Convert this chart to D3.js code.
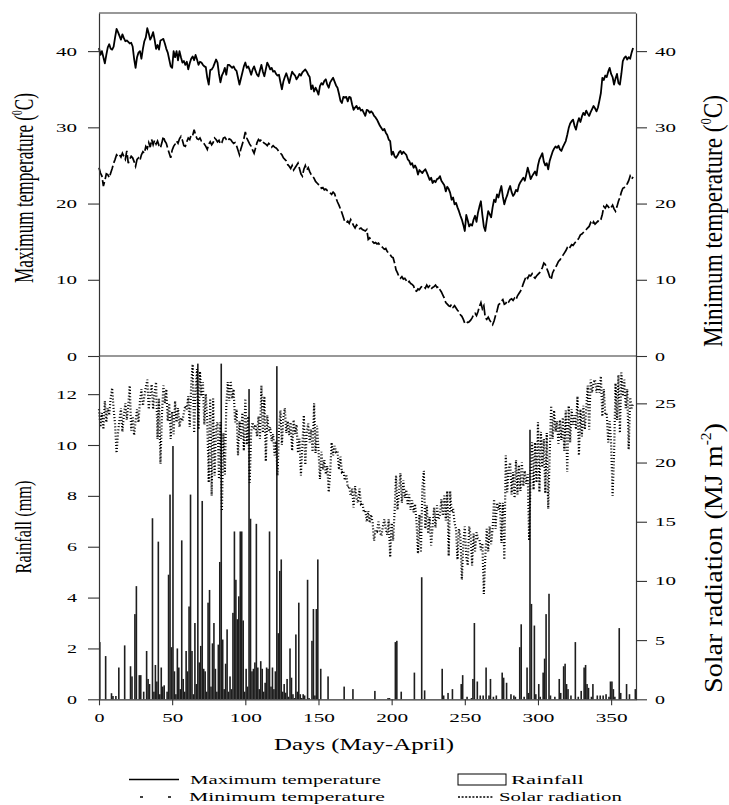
<!DOCTYPE html>
<html><head><meta charset="utf-8">
<script src="https://cdn.jsdelivr.net/npm/d3@7/dist/d3.min.js"></script>
<style>body{margin:0;background:#fff}svg{display:block}text{font-family:'Liberation Serif','Times New Roman',serif}</style>
</head><body>
<svg id="c" width="729" height="805"></svg>
<script>
// Daily maximum temperature (°C), days 0..365
const tmax = [
40.4,39.5,40.0,39.2,38.4,39.5,40.5,40.9,40.3,40.2,
40.6,41.8,42.9,42.5,42.0,41.5,42.2,41.7,41.3,41.4,
41.2,41.0,41.1,40.6,39.0,37.8,39.2,39.8,40.0,39.0,
40.3,41.3,41.8,43.0,42.3,41.5,41.9,42.5,41.5,40.3,
40.8,40.2,41.4,41.5,41.6,41.0,40.3,39.8,38.9,38.0,
37.8,40.0,39.2,40.0,38.8,40.0,39.2,38.5,38.7,38.2,
38.6,37.6,38.4,39.0,39.3,38.8,39.5,38.9,38.2,38.6,
38.5,38.2,38.0,37.9,36.5,35.6,37.5,37.6,37.9,38.4,
38.9,38.5,37.0,35.9,36.8,37.2,37.8,36.9,38.2,38.2,
38.0,37.8,38.0,37.6,37.4,36.5,35.6,36.4,37.2,38.0,
38.5,37.8,38.0,37.5,36.9,37.6,38.0,37.4,36.9,36.7,
37.5,38.2,37.3,36.7,37.6,38.5,38.1,37.6,37.8,37.3,
37.4,37.0,36.8,36.9,35.9,35.0,36.0,36.6,37.1,36.5,
35.8,36.6,37.3,37.0,36.8,36.3,36.6,37.0,36.8,37.2,
37.4,37.6,37.3,36.9,36.6,35.0,35.5,34.7,35.2,34.8,
34.3,35.4,35.8,35.6,36.1,36.3,35.6,35.2,35.9,36.2,
36.5,36.0,35.5,35.2,34.4,33.5,33.2,34.0,33.9,34.0,
33.4,34.0,33.9,33.0,32.3,32.6,32.8,32.4,32.6,32.2,
32.3,31.9,31.5,32.3,32.2,31.9,32.1,31.9,31.5,31.3,
31.0,30.6,30.2,29.9,29.6,29.8,29.3,29.0,28.4,28.2,
26.4,26.8,26.2,26.0,26.3,26.7,26.9,26.5,26.8,26.6,
26.4,25.8,25.6,25.1,25.3,24.7,25.0,24.6,23.8,24.4,
24.2,24.0,24.3,24.5,24.1,23.6,23.1,23.4,22.7,23.0,
22.8,23.2,23.3,23.6,23.0,22.7,22.4,21.6,22.2,21.9,
21.4,20.5,20.8,19.9,20.1,19.5,19.0,18.4,17.9,17.2,
16.4,18.5,17.8,17.0,17.3,17.1,17.9,18.4,17.6,18.8,
19.6,20.3,18.5,17.0,16.4,17.8,19.0,18.6,18.2,19.5,
20.5,20.2,21.2,20.8,21.6,22.3,20.9,19.9,20.6,21.1,
21.8,22.3,21.5,21.0,21.3,21.8,21.6,22.4,22.8,23.1,
23.4,23.0,23.8,24.7,24.0,23.2,23.6,23.9,24.2,23.7,
25.0,25.8,26.2,26.6,25.5,25.0,25.3,24.5,25.6,26.2,
26.8,27.2,27.5,27.3,27.6,27.1,26.9,27.4,27.8,28.2,
29.0,29.9,30.5,30.8,31.0,30.2,29.7,30.6,31.2,30.7,
31.4,31.9,31.6,32.2,31.8,31.5,32.0,32.4,32.8,32.5,
32.1,32.6,33.5,34.5,36.5,36.2,36.8,36.6,37.3,37.8,
37.0,36.6,35.6,36.4,37.0,35.8,35.6,37.0,38.7,39.1,
39.3,38.9,39.2,39.0,39.8,40.4];

// Daily minimum temperature (°C)
const tmin = [
24.7,24.0,23.6,22.3,23.0,23.9,23.8,23.4,24.0,24.6,
25.3,25.8,26.4,26.2,26.4,26.1,26.6,26.2,25.8,26.9,
25.3,25.8,26.2,26.0,25.5,24.9,25.8,26.0,25.7,26.4,
26.8,26.6,27.5,27.2,28.0,27.4,28.4,27.7,28.3,27.8,
28.2,27.6,27.3,28.0,28.8,28.2,27.9,27.2,26.6,26.0,
27.0,27.5,27.8,28.2,27.9,28.5,28.8,28.3,27.6,27.5,
28.1,28.6,28.4,29.0,28.9,29.7,29.0,28.5,28.4,28.6,
28.2,28.1,27.8,27.5,27.1,27.8,28.1,27.7,28.0,28.6,
28.4,28.1,28.3,27.8,28.0,28.6,28.7,28.4,28.2,28.5,
28.4,28.1,27.9,28.0,27.6,27.0,26.4,27.2,27.8,28.5,
29.4,28.6,28.2,27.8,27.5,27.0,26.6,27.3,28.0,28.4,
28.2,28.4,28.1,27.9,27.8,27.6,27.9,27.7,27.4,27.6,
27.4,27.3,27.1,26.8,26.6,26.4,26.0,25.8,25.6,25.1,
24.9,24.6,25.0,24.4,24.7,25.0,25.3,24.6,23.9,23.6,
24.5,25.0,24.4,24.7,24.2,23.8,23.6,23.3,22.9,22.7,
22.5,22.4,22.0,22.1,21.8,21.9,21.7,21.6,21.4,21.2,
21.5,21.3,20.7,20.2,19.8,19.3,18.8,18.2,17.6,17.5,
17.7,17.4,17.9,17.5,17.1,16.8,17.2,17.0,16.7,16.8,
16.6,16.5,16.4,16.6,15.3,15.5,15.2,15.0,14.8,14.9,
14.7,14.8,14.5,14.4,14.2,14.0,14.1,13.7,13.5,13.3,
13.0,12.9,12.2,11.3,10.9,10.4,10.2,10.4,10.1,10.2,
9.9,9.6,9.8,9.5,9.4,9.2,8.6,8.5,8.8,8.7,
9.0,9.2,9.1,8.9,9.3,9.0,9.2,8.8,9.0,9.1,
9.3,9.0,9.1,8.7,8.4,8.0,7.6,7.0,6.8,6.6,
6.5,6.8,6.4,6.6,6.3,6.0,5.8,5.4,5.2,4.8,
4.3,4.5,4.4,4.5,4.7,5.0,5.4,5.6,5.3,5.8,
6.5,7.0,6.2,6.6,5.0,4.8,5.1,4.7,4.4,4.1,
4.6,5.3,5.9,6.7,6.9,7.2,7.4,6.8,6.9,7.3,
7.1,7.4,7.5,7.3,7.6,7.4,7.9,8.2,8.5,8.9,
9.5,10.0,10.5,10.2,10.6,10.5,10.8,10.4,10.2,10.5,
10.7,10.9,11.2,11.6,12.2,12.0,11.5,11.0,10.4,10.0,
10.9,11.3,11.6,12.0,12.4,12.6,12.9,13.2,13.5,13.8,
14.2,14.0,14.3,14.6,14.5,14.8,15.0,15.2,15.5,15.9,
16.0,16.2,16.4,16.6,16.8,17.0,17.5,17.2,17.6,17.3,
17.5,17.7,17.6,17.9,18.6,19.6,19.4,19.8,19.6,19.3,
19.5,19.8,19.3,19.0,19.6,20.3,20.8,21.5,22.0,22.1,
22.3,22.6,23.0,23.6,23.2,23.5];

// Daily solar radiation (MJ m-2)
const solar = [
24.5,23.0,24.2,22.8,25.2,23.4,24.6,24.0,25.5,26.3,
24.5,23.2,20.8,22.5,23.6,24.6,22.6,24.0,25.0,23.6,
24.8,26.5,22.7,23.9,22.3,23.5,24.5,23.4,25.2,26.2,
24.8,25.6,26.4,27.0,24.5,25.8,26.6,24.5,25.9,26.8,
22.0,25.4,19.9,24.0,26.5,25.0,26.2,23.5,25.0,22.0,
24.3,22.4,25.2,23.4,24.6,23.0,23.8,23.5,24.2,24.8,
24.5,25.6,23.0,26.5,28.3,22.5,26.0,27.9,22.8,27.7,
25.6,26.8,23.2,25.8,23.4,18.3,25.4,17.2,25.4,18.9,
23.0,23.4,18.6,23.4,15.9,22.5,19.0,24.8,26.8,25.2,
26.9,25.4,26.2,23.4,24.5,20.6,23.5,22.0,24.2,21.0,
25.4,21.5,23.9,18.3,22.6,23.4,22.8,23.2,22.2,23.9,
22.0,26.5,22.5,25.6,20.1,24.0,22.6,23.0,21.8,22.4,
20.6,21.8,18.9,22.7,24.4,21.5,23.8,24.6,22.5,23.5,
22.3,23.4,21.0,23.6,22.4,23.2,20.8,22.0,18.9,21.5,
24.0,19.8,22.6,23.3,21.7,22.8,20.9,25.0,20.8,23.1,
21.1,18.6,20.9,19.4,20.2,19.0,19.7,17.5,19.2,21.7,
20.6,21.4,20.9,21.0,19.4,20.5,19.2,19.3,18.5,19.0,
17.9,18.0,17.2,17.8,16.2,18.0,17.0,16.6,17.8,16.5,
16.6,15.8,16.0,15.0,15.9,14.9,15.6,14.9,13.4,14.3,
14.2,15.0,14.1,13.8,14.6,15.2,14.4,13.9,15.2,12.0,
14.9,13.4,15.8,18.9,16.0,17.4,19.1,16.6,18.5,17.0,
17.7,16.4,17.3,16.0,16.8,15.8,16.5,15.0,12.3,15.6,
12.4,17.8,19.3,14.4,16.4,14.0,15.4,13.0,14.6,16.2,
14.5,16.4,15.2,15.6,16.9,15.5,17.2,15.1,17.6,12.1,
17.6,15.8,16.1,14.9,14.4,11.8,14.4,13.8,10.1,13.2,
14.6,12.0,11.3,14.6,13.8,11.3,14.0,12.5,14.1,13.6,
13.5,12.6,13.2,8.9,12.0,14.4,12.5,14.6,13.1,14.4,
16.9,14.4,16.6,16.0,16.6,13.2,16.6,11.8,20.6,17.5,
19.5,20.0,17.3,19.2,17.0,20.2,17.3,19.8,17.6,20.0,
18.0,19.3,18.2,19.0,13.4,19.2,21.7,17.7,21.7,18.3,
23.4,17.5,22.6,19.6,22.0,17.4,22.5,16.1,20.6,24.8,
22.0,24.4,22.6,23.5,21.6,23.6,21.9,23.8,21.0,24.4,
19.2,24.8,21.7,24.5,23.2,24.0,22.8,25.6,20.6,24.5,
22.2,24.8,22.8,24.6,26.5,22.8,27.0,25.9,26.8,27.0,
25.9,26.7,25.9,27.3,23.9,26.2,24.0,24.2,21.7,23.5,
21.6,17.2,20.6,26.7,23.6,27.4,22.5,27.6,25.6,27.0,
24.6,26.2,21.1,25.5,24.6,25.0];

// Rainfall events: day and amount (mm)
const rainDays = [0,4,8,9,11,13,17,21,22,24,25,27,28,30,32,33,34,36,37,38,39,40,41,42,43,44,46,47,48,49,
50,51,52,53,54,55,56,57,58,59,60,61,62,63,64,65,66,67,68,69,70,71,72,73,74,75,76,77,78,79,
80,81,82,83,84,85,86,87,88,89,90,91,92,93,94,95,96,97,98,99,100,101,102,103,104,105,106,107,108,109,
110,111,112,113,114,115,116,117,118,119,120,121,122,123,124,125,126,127,128,129,130,131,132,133,134,135,136,137,138,139,
140,142,143,145,146,147,148,149,151,156,167,173,188,197,198,202,203,206,215,220,222,234,235,238,241,247,248,251,254,255,
256,258,260,262,264,266,267,269,271,275,276,278,281,283,284,287,288,290,292,293,294,295,297,298,300,301,303,304,305,307,
308,311,314,315,317,318,319,320,322,325,327,329,331,332,333,334,336,337,340,342,344,346,348,349,350,351,352,355,356,360,362,366];
const rainMm = [2.25,1.7,0.24,0.13,0.13,1.25,2.12,1.3,0.9,3.35,4.45,0.95,0.95,0.3,1.9,0.8,0.6,7.12,0.3,1.35,0.7,6.2,0.2,1.25,0.5,0.55,0.3,4.9,8.05,2.05,
9.96,1.1,0.2,2.0,1.25,0.4,6.25,0.8,0.3,1.9,1.1,3.65,8.05,1.9,0.2,3.0,0.6,13.2,1.45,2.1,7.8,1.2,1.1,0.3,3.8,4.3,0.5,2.2,3.0,1.2,
0.3,2.15,5.4,13.2,2.35,0.4,1.4,2.75,0.3,0.9,0.4,3.4,6.6,4.7,3.15,4.05,6.6,6.6,3.1,0.3,1.2,0.5,12.2,7.1,1.1,1.2,1.45,6.9,1.25,0.4,
1.5,1.2,0.3,0.65,1.25,1.2,6.6,0.5,1.25,0.4,1.1,13.1,2.6,5.05,5.5,0.3,0.6,0.26,0.8,0.1,2.0,0.85,0.2,0.05,2.55,0.3,3.8,0.2,0.05,0.2,
0.15,4.7,0.05,2.3,3.55,0.15,3.55,5.5,1.2,0.9,0.5,0.4,0.33,0.05,0.05,2.25,2.3,0.3,1.05,4.8,0.35,1.2,0.15,0.25,0.4,0.6,0.95,0.1,0.05,0.8,
3.0,0.7,0.15,0.15,1.25,0.15,0.8,0.1,0.15,1.05,0.85,0.65,0.2,0.15,0.1,2.05,2.95,0.1,1.25,0.25,10.6,3.75,2.9,0.2,0.6,0.1,1.05,1.6,3.35,4.15,
0.15,0.1,0.8,0.25,1.3,1.4,0.6,0.4,0.15,2.25,0.1,0.33,1.25,1.35,0.6,0.45,0.1,0.6,0.15,0.15,0.15,0.2,0.1,0.7,0.7,0.4,0.1,2.8,0.25,0.6,0.2,0.4];

const xTicks = [0,50,100,150,200,250,300,350];
const tempTicks = [0,10,20,30,40];
const rainTicks = [0,2,4,6,8,10,12];
const solarTicks = [0,5,10,15,20,25];

const svg = d3.select("#c");
const L = 99, R = 636, T = 13, M = 356, B = 699.3;
const x = d3.scaleLinear().domain([0,367]).range([L,R]);
const yT = d3.scaleLinear().domain([0,45]).range([M,T]);
const yR = d3.scaleLinear().domain([0,13.5]).range([B,M]);
const yS = d3.scaleLinear().domain([0,29]).range([B,M]);

// stretch a text element along its baseline to a target length
function fit(node, target) {
  const n = node.getComputedTextLength();
  return n > 0 ? target / n : 1;
}

// rainfall bars
svg.append("g").selectAll("rect").data(rainDays.map((d,i)=>[d,rainMm[i]])).join("rect")
  .attr("x", d => x(d[0]))
  .attr("width", 1.6)
  .attr("y", d => yR(d[1]))
  .attr("height", d => B - yR(d[1]))
  .attr("fill", "#1e1e1e");

// solar radiation
svg.append("path").datum(solar)
  .attr("d", d3.line().x((d,i)=>x(i)).y(d=>yS(d)))
  .attr("fill","none").attr("stroke","#000").attr("stroke-width",2.2)
  .attr("stroke-dasharray","1,2.1");

// min temperature
svg.append("path").datum(tmin)
  .attr("d", d3.line().x((d,i)=>x(i)).y(d=>yT(d)))
  .attr("fill","none").attr("stroke","#000").attr("stroke-width",1.7)
  .attr("stroke-dasharray","10,3");

// max temperature
svg.append("path").datum(tmax)
  .attr("d", d3.line().x((d,i)=>x(i)).y(d=>yT(d)))
  .attr("fill","none").attr("stroke","#000").attr("stroke-width",1.8)
  .attr("stroke-linejoin","round");

// frame lines
svg.append("line").attr("x1",L).attr("x2",R).attr("y1",T).attr("y2",T).attr("stroke","#333").attr("stroke-width",1.2);
svg.append("line").attr("x1",L).attr("x2",R).attr("y1",M).attr("y2",M).attr("stroke","#333").attr("stroke-width",1.2);

function styleAxis(g) {
  g.select(".domain").attr("stroke","#333").attr("stroke-width",1.2);
  g.selectAll(".tick line").attr("stroke","#333").attr("stroke-width",1.1);
  g.selectAll(".tick text")
    .attr("font-family", null).attr("font-size", 12.5).attr("fill","#000")
    .each(function(d) {
      const t = d3.select(this);
      const xx = +t.attr("x") || 0, yy = +t.attr("y") || 0;
      const s = fit(this, String(d).length*11 - 1);
      t.attr("x", 0).attr("y", 0)
       .attr("transform", `translate(${xx},${yy}) scale(${s},1)`);
    });
}

const gLT = svg.append("g").attr("transform",`translate(${L},0)`)
  .call(d3.axisLeft(yT).tickValues(tempTicks).tickSize(11).tickPadding(11).tickSizeOuter(0));
const gLB = svg.append("g").attr("transform",`translate(${L},0)`)
  .call(d3.axisLeft(yR).tickValues(rainTicks).tickSize(11).tickPadding(11).tickSizeOuter(0));
const gRT = svg.append("g").attr("transform",`translate(${R},0)`)
  .call(d3.axisRight(yT).tickValues(tempTicks).tickSize(11).tickPadding(8).tickSizeOuter(0));
const gRB = svg.append("g").attr("transform",`translate(${R},0)`)
  .call(d3.axisRight(yS).tickValues(solarTicks).tickSize(11).tickPadding(8).tickSizeOuter(0));
const gB = svg.append("g").attr("transform",`translate(0,${B})`)
  .call(d3.axisBottom(x).tickValues(xTicks).tickSize(6).tickSizeOuter(0));
gB.selectAll(".tick text").attr("y", 22.7).attr("dy", 0);
[gLT, gLB, gRT, gRB, gB].forEach(styleAxis);

// rotated axis titles
function vTitle(cx, cy, size, len, parts) {
  const t = svg.append("text")
    .attr("text-anchor","middle").attr("font-size",size);
  parts.forEach(p => {
    const s = t.append("tspan").text(p.t);
    if (p.sup) s.attr("font-size", size*0.55).attr("dy", -size*0.42);
    if (p.down) s.attr("dy", size*0.42);
  });
  const s = fit(t.node(), len);
  t.attr("transform", `translate(${cx},${cy}) rotate(-90) scale(${s},1)`);
}
vTitle(33, 188, 27, 190, [{t:"Maximum  temperature ("},{t:"0",sup:true},{t:"C)",down:true}]);
vTitle(722, 221, 27, 252, [{t:"Minimum temperature ("},{t:"0",sup:true},{t:"C)",down:true}]);
vTitle(31, 527, 24, 93, [{t:"Rainfall (mm)"}]);
vTitle(722, 558, 26, 270, [{t:"Solar radiation (MJ m"},{t:"-2",sup:true},{t:")",down:true}]);

// horizontal stretched text
function hText(xx, yy, size, len, str, anchor) {
  const t = svg.append("text").attr("font-size", size)
    .attr("text-anchor", anchor || "start").text(str);
  const s = fit(t.node(), len);
  t.attr("transform", `translate(${xx},${yy}) scale(${s},1)`);
}

// x title
hText(364, 750, 16, 180, "Days (May-April)", "middle");

// legend
svg.append("line").attr("x1",129).attr("x2",179).attr("y1",779.5).attr("y2",779.5)
  .attr("stroke","#000").attr("stroke-width",1.4);
hText(190, 784, 13.5, 191, "Maximum temperature");
svg.append("rect").attr("x",458).attr("y",774).attr("width",48).attr("height",11)
  .attr("fill","none").attr("stroke","#000").attr("stroke-width",1);
hText(511, 784, 13.5, 73, "Rainfall");
svg.append("line").attr("x1",140).attr("x2",171).attr("y1",797).attr("y2",797)
  .attr("stroke","#000").attr("stroke-width",1.4).attr("stroke-dasharray","3,25");
hText(189, 801, 13.5, 196, "Minimum temperature");
svg.append("line").attr("x1",458).attr("x2",493).attr("y1",797).attr("y2",797)
  .attr("stroke","#000").attr("stroke-width",1.3).attr("stroke-dasharray","2,1.6");
hText(499, 801, 13.5, 123, "Solar radiation");
</script>
</body></html>
